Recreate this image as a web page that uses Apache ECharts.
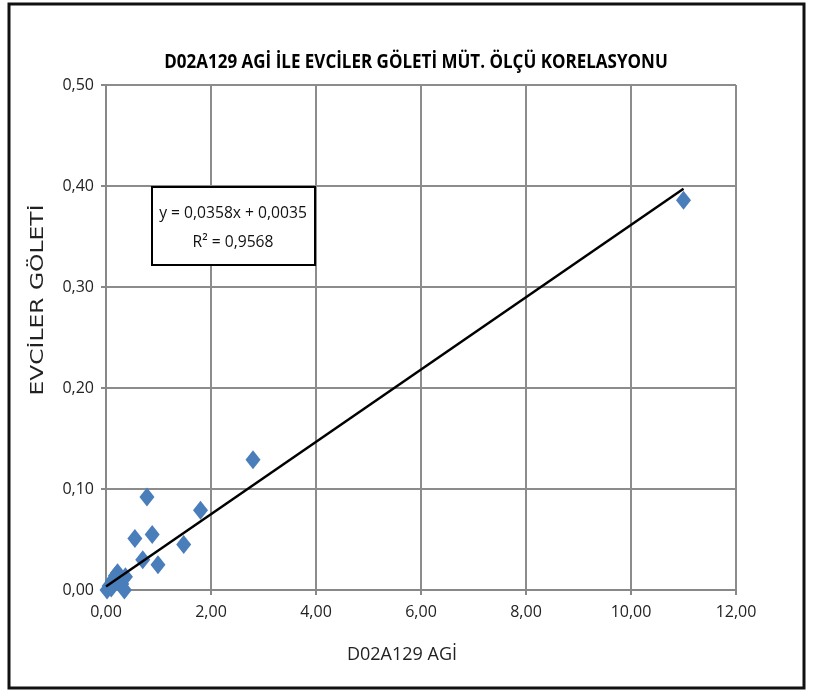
<!DOCTYPE html>
<html><head><meta charset="utf-8">
<script src="https://cdn.jsdelivr.net/npm/echarts@6/dist/echarts.min.js"></script>
<style>html,body{margin:0;padding:0;background:#fff}#c{width:813px;height:697px}</style>
</head><body><div id="c"></div>
<script>
const titleText = "D02A129 AGİ İLE EVCİLER GÖLETİ MÜT. ÖLÇÜ KORELASYONU";
const xName = "D02A129 AGİ";
const yName = "EVCİLER GÖLETİ";
const xValues = [11.0, 2.8, 1.8, 1.48, 0.78, 0.88, 0.55, 0.70, 0.99, 0.02, 0.06, 0.12, 0.18, 0.22, 0.30, 0.35, 0.37, 0.10];
const yValues = [0.386, 0.129, 0.079, 0.045, 0.092, 0.055, 0.051, 0.030, 0.025, 0.000, 0.004, 0.009, 0.014, 0.017, 0.006, 0.000, 0.013, 0.002];
const slope = 0.0358, intercept = 0.0035, r2 = 0.9568;
const trendX = [0, 11.0];
const font = '"Open Sans", sans-serif';

const pts = xValues.map((x, i) => [x, yValues[i]]);
const trend = trendX.map(x => [x, slope * x + intercept]);
const fmt = v => v.toFixed(2).replace('.', ',');

const chart = echarts.init(document.getElementById('c'));
chart.setOption({
  animation: false,
  grid: { left: 106, right: 77, top: 85, bottom: 107 },
  xAxis: {
    type: 'value', min: 0, max: 12, interval: 2,
    name: xName, nameLocation: 'middle', nameGap: 56,
    nameTextStyle: { fontFamily: font, fontSize: 18, color: '#222', padding: [0, 38, 0, 0] },
    axisLine: { show: true, lineStyle: { color: '#888', width: 2 } },
    axisTick: { show: true, length: 5, lineStyle: { color: '#888', width: 2 } },
    axisLabel: { formatter: fmt, fontFamily: font, fontSize: 16, color: '#222', margin: 14 },
    splitLine: { show: true, lineStyle: { color: '#8c8c8c', width: 2 } }
  },
  yAxis: {
    type: 'value', min: 0, max: 0.5, interval: 0.1,
    axisLine: { show: true, lineStyle: { color: '#888', width: 2 } },
    axisTick: { show: true, length: 5, lineStyle: { color: '#888', width: 2 } },
    axisLabel: { formatter: fmt, fontFamily: font, fontSize: 16, color: '#222', margin: 12 },
    splitLine: { show: true, lineStyle: { color: '#8c8c8c', width: 2 } }
  },
  series: [
    { type: 'scatter', data: pts, symbol: 'diamond', symbolSize: [15, 19],
      itemStyle: { color: '#4a7ebb', opacity: 1 }, z: 3 },
    { type: 'line', data: trend, symbol: 'none',
      lineStyle: { color: '#000', width: 2.5 }, z: 4 }
  ],
  graphic: [
    { type: 'text', x: 416, y: 62, scaleX: 0.85, z: 11,
      style: { text: titleText, font: 'bold 20px ' + font, fill: '#000',
        align: 'center', verticalAlign: 'middle' } },
    { type: 'text', x: 38, y: 300, rotation: Math.PI / 2, scaleX: 1.3, z: 11,
      style: { text: yName, font: '18px "DejaVu Sans", sans-serif', fill: '#222',
        align: 'center', verticalAlign: 'middle' } },
    { type: 'rect', shape: { x: 9, y: 4, width: 795, height: 684 },
      style: { fill: 'none', stroke: '#111', lineWidth: 3 }, z: 10 },
    { type: 'rect', shape: { x: 152, y: 187, width: 163, height: 78 },
      style: { fill: '#fff', stroke: '#000', lineWidth: 2 }, z: 10 },
    { type: 'text', x: 233, y: 213, scaleX: 0.92, z: 11,
      style: { text: 'y = ' + String(slope).replace('.', ',') + 'x + ' + intercept.toFixed(4).replace('.', ','),
        font: '17px ' + font, fill: '#111', align: 'center', verticalAlign: 'middle' } },
    { type: 'text', x: 233, y: 242, scaleX: 0.92, z: 11,
      style: { text: 'R² = ' + String(r2).replace('.', ','),
        font: '17px ' + font, fill: '#111', align: 'center', verticalAlign: 'middle' } }
  ]
});
</script></body></html>
